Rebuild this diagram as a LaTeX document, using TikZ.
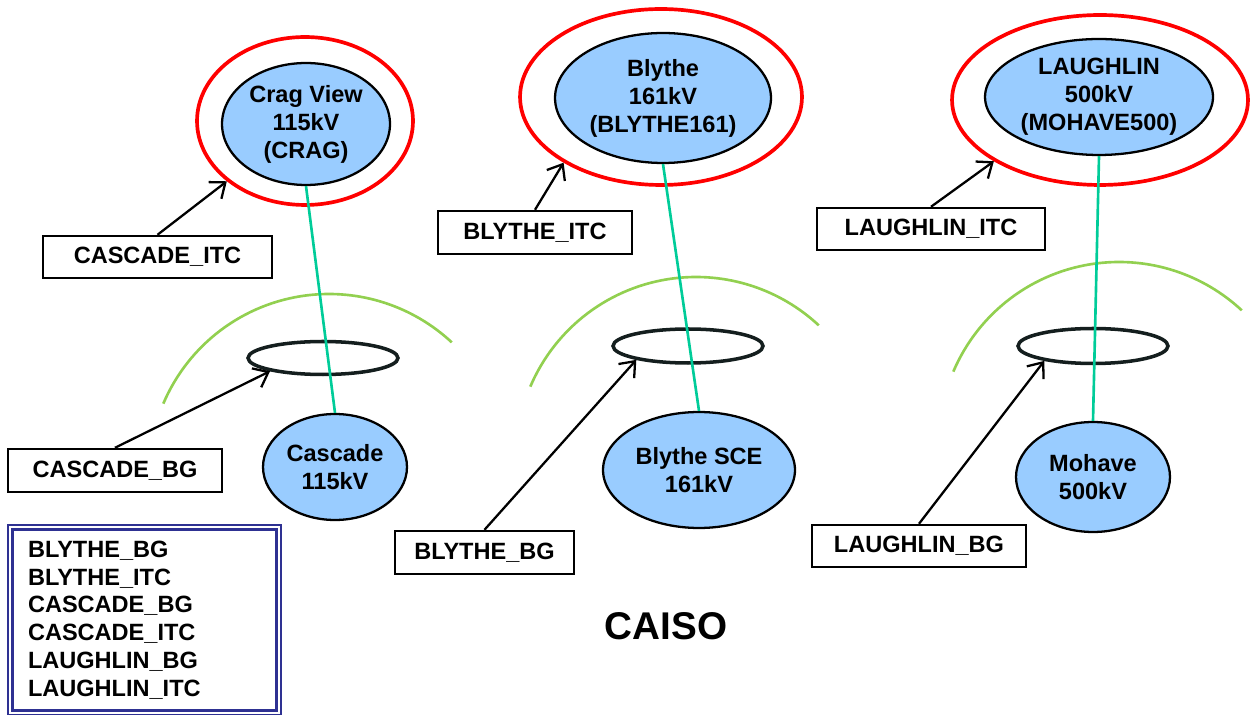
\documentclass[tikz,border=0pt]{standalone}
\usepackage{fontspec}
\setmainfont{Liberation Sans}
\usetikzlibrary{shapes.geometric,arrows.meta}

\definecolor{stationblue}{RGB}{153,204,255}
\definecolor{tieline}{RGB}{0,204,153}
\definecolor{zonegreen}{RGB}{146,208,80}
\definecolor{ringblack}{RGB}{20,30,30}
\definecolor{legendnavy}{RGB}{46,49,146}

\tikzset{
  station/.style={ellipse, draw=black, line width=1.3pt, fill=stationblue, inner sep=0pt, align=center, font=\bfseries\fontsize{13.4}{15.9}\selectfont},
  itcring/.style={ellipse, draw=red, line width=2.1pt, inner sep=0pt},
  bgring/.style={ellipse, draw=ringblack, line width=2pt, inner sep=0pt},
  tagbox/.style={rectangle, draw=black, line width=1.4pt, inner sep=0pt, font=\bfseries\fontsize{13.4}{15.9}\selectfont},
  tie/.style={draw=tieline, line width=1.5pt},
  zone/.style={draw=zonegreen, line width=1.5pt},
  pointer/.style={draw=black, line width=1.3pt, -{Straight Barb[length=7.5pt,width=12pt,line width=1.3pt]}},
}

\begin{document}
\begin{tikzpicture}[x=0.02cm, y=-0.02cm]
            % page is 1250 x 715 (units of the reference)
            \useasboundingbox (0,0) rectangle (1250,715);

            % ITC rings (red) and BG rings (black)
            \node[itcring, minimum width=4.32cm, minimum height=3.36cm] at (305,121) (ITC1) {};
            \node[itcring, minimum width=5.64cm, minimum height=3.52cm] at (661,97) (ITC2) {};
            \node[itcring, minimum width=5.92cm, minimum height=3.40cm] at (1100,100) (ITC3) {};

            \node[bgring, minimum width=3.00cm, minimum height=0.66cm] at (323,358) (BG1) {};
            \node[bgring, minimum width=3.00cm, minimum height=0.68cm] at (688,346) (BG2) {};
            \node[bgring, minimum width=3.00cm, minimum height=0.70cm] at (1093,346) (BG3) {};

            % balancing areas
            \draw[zone] ([shift={(203:180)}]329,474) arc[start angle=203, end angle=313, radius=180];
            \draw[zone] ([shift={(203:180)}]696,457) arc[start angle=203, end angle=313, radius=180];
            \draw[zone] ([shift={(203:180)}]1119,442) arc[start angle=203, end angle=313, radius=180];

            % stations
            \node[station, minimum width=3.36cm, minimum height=2.44cm] at (306,124) (crag) {Crag View\\115kV\\(CRAG)};
            \node[station, minimum width=4.32cm, minimum height=2.60cm] at (663,98) (blythe) {Blythe\\161kV\\(BLYTHE161)};
            \node[station, minimum width=4.56cm, minimum height=2.32cm] at (1099,97) (laughlin) {LAUGHLIN\\500kV\\(MOHAVE500)};

            \node[station, minimum width=2.88cm, minimum height=2.12cm] at (335,467) (cascade) {Cascade\\115kV};
            \node[station, minimum width=3.84cm, minimum height=2.32cm] at (699,470) (blythesce) {Blythe SCE\\161kV};
            \node[station, minimum width=3.08cm, minimum height=2.20cm] at (1093,477) (mohave) {Mohave\\500kV};

            % ties
            \draw[tie] (crag.south) -- (cascade.north);
            \draw[tie] (blythe.south) -- (blythesce.north);
            \draw[tie] (laughlin.south) -- (mohave.north);

            % tags
            \node[tagbox, minimum width=4.58cm, minimum height=0.84cm] at (157.5,257) (cascadeitc) {CASCADE\_ITC};
            \node[tagbox, minimum width=4.28cm, minimum height=0.86cm] at (115,470.5) (cascadebg) {CASCADE\_BG};
            \node[tagbox, minimum width=3.88cm, minimum height=0.86cm] at (535,232.5) (blytheitc) {BLYTHE\_ITC};
            \node[tagbox, minimum width=3.58cm, minimum height=0.86cm] at (484.5,552.5) (blythebg) {BLYTHE\_BG};
            \node[tagbox, minimum width=4.56cm, minimum height=0.84cm] at (931,229) (laughlinitc) {LAUGHLIN\_ITC};
            \node[tagbox, minimum width=4.28cm, minimum height=0.84cm] at (919,546) (laughlinbg) {LAUGHLIN\_BG};

            \draw[pointer] (cascadeitc.north) -- (ITC1);
            \draw[pointer] (cascadebg.north) -- (BG1.194);
            \draw[pointer] (blytheitc.north) -- (ITC2.214);
            \draw[pointer] (blythebg.north) -- (BG2.195);
            \draw[pointer] (laughlinitc.north) -- (ITC3.210);
            \draw[pointer] (laughlinbg.north) -- (BG3.197);

            % legend
            \node[draw=legendnavy, line width=1.7pt, double=white, double distance=0.6pt,
                  minimum width=5.38cm, minimum height=3.72cm, text width=4.66cm,
                  inner xsep=0.36cm, inner ysep=0pt, align=left,
                  font=\bfseries\fontsize{13.4}{15.8}\selectfont] at (144.5,620) (legend)
                  {BLYTHE\_BG\\BLYTHE\_ITC\\CASCADE\_BG\\CASCADE\_ITC\\LAUGHLIN\_BG\\LAUGHLIN\_ITC};

            \node[font=\bfseries\fontsize{22}{26}\selectfont] at (666,626) (caiso) {CAISO};
\end{tikzpicture}
\end{document}
